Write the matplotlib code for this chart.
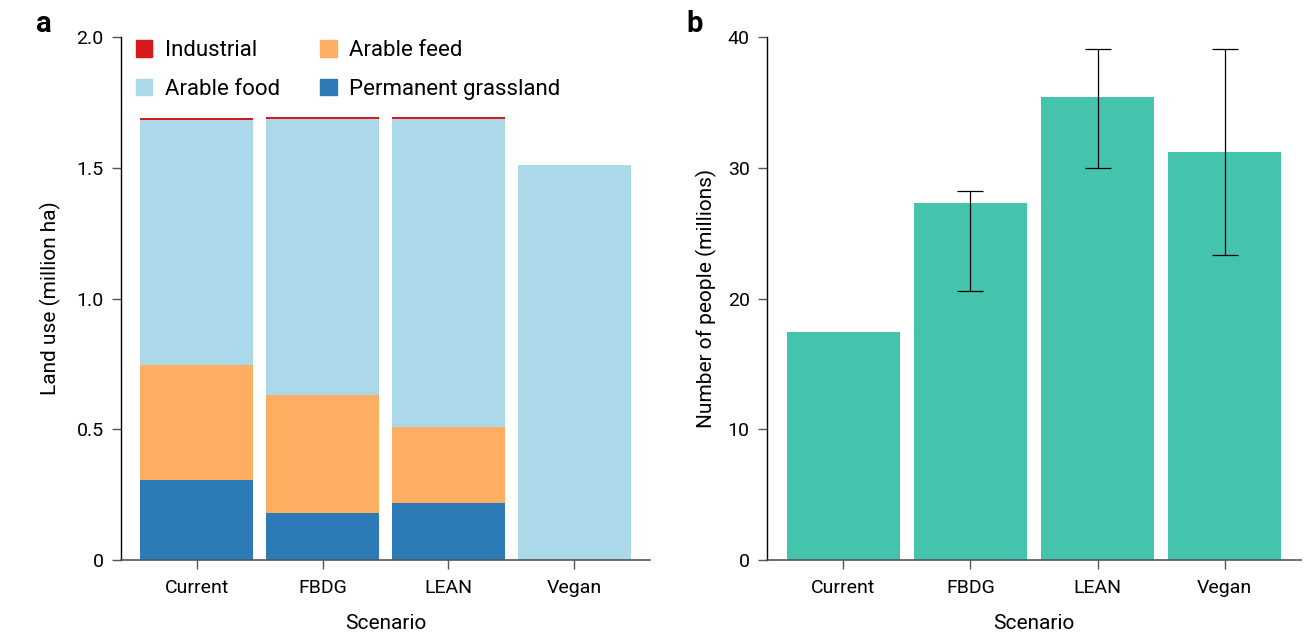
import numpy as np
import matplotlib
matplotlib.use("Agg")
import matplotlib.pyplot as plt
from matplotlib.patches import Patch


scenarios = ["Current", "FBDG", "LEAN", "Vegan"]

# panel a, land use (million ha)
grassland = [0.306, 0.180, 0.218, 0.0]
arable_feed = [0.440, 0.451, 0.291, 0.0]
arable_food = [0.938, 1.055, 1.177, 1.511]
industrial = [0.005, 0.008, 0.008, 0.0]

# panel b, number of people (millions)
people = [17.4, 27.3, 35.4, 31.2]
people_low = [np.nan, 20.6, 30.0, 23.3]
people_high = [np.nan, 28.2, 39.1, 39.1]

C_IND = "#d7191c"
C_FEED = "#fdae61"
C_FOOD = "#abd9e9"
C_GRASS = "#2c7bb6"
C_PEOPLE = "#44c4ad"

plt.rcParams["font.family"] = ["Roboto", "DejaVu Sans"]
TICK_FONT = ["Liberation Sans Narrow", "Roboto", "DejaVu Sans"]

fig = plt.figure(figsize=(13.12, 6.44), dpi=100)
W, H = 1312, 644
ax_a = fig.add_axes([121 / W, 84 / H, 529 / W, 523 / H])
ax_b = fig.add_axes([767 / W, 84 / H, 534 / W, 523 / H])


def style_axes(ax):
    ax.spines["top"].set_visible(False)
    ax.spines["right"].set_visible(False)
    ax.spines["left"].set_color("black")
    ax.spines["bottom"].set_color("#555555")
    ax.spines["left"].set_linewidth(1.0)
    ax.spines["bottom"].set_linewidth(1.2)
    ax.tick_params(axis="both", direction="out", length=6.5, width=1, color="#555555")
    ax.tick_params(axis="y", labelsize=14, pad=6)
    ax.tick_params(axis="x", labelsize=14, pad=7.5)
    for lab in ax.get_xticklabels() + ax.get_yticklabels():
        lab.set_family(TICK_FONT)
    ax.set_xlabel("Scenario", fontsize=15, labelpad=12)
    ax.set_xlim(-0.6, 3.6)


x = np.arange(len(scenarios))
w = 0.9

# panel a
b1 = np.array(grassland)
b2 = b1 + np.array(arable_feed)
b3 = b2 + np.array(arable_food)
ax_a.bar(x, grassland, w, color=C_GRASS)
ax_a.bar(x, arable_feed, w, bottom=b1, color=C_FEED)
ax_a.bar(x, arable_food, w, bottom=b2, color=C_FOOD)
ax_a.bar(x, industrial, w, bottom=b3, color=C_IND)
ax_a.set_ylim(0, 2.0)
ax_a.set_yticks([0, 0.5, 1.0, 1.5, 2.0])
ax_a.set_yticklabels(["0", "0.5", "1.0", "1.5", "2.0"])
ax_a.set_xticks(x)
ax_a.set_xticklabels(scenarios)
ax_a.set_ylabel("Land use (million ha)", fontsize=15, labelpad=11)
style_axes(ax_a)

handles = [
    Patch(color=C_IND, label="Industrial"),
    Patch(color=C_FOOD, label="Arable food"),
    Patch(color=C_FEED, label="Arable feed"),
    Patch(color=C_GRASS, label="Permanent grassland"),
]
ax_a.legend(handles=handles, ncol=2, loc="upper left", bbox_to_anchor=(-0.01, 1.032),
            frameon=False, fontsize=16, handlelength=0.75, handleheight=0.75,
            handletextpad=0.55, columnspacing=1.82, labelspacing=0.8)

# panel b
ax_b.bar(x, people, 0.89, color=C_PEOPLE)
yerr = np.array([np.array(people) - np.array(people_low),
                 np.array(people_high) - np.array(people)])
ax_b.errorbar(x[1:], people[1:], yerr=yerr[:, 1:], fmt="none", ecolor="black",
              elinewidth=0.9, capsize=9.4, capthick=0.9)
ax_b.set_ylim(0, 40)
ax_b.set_yticks([0, 10, 20, 30, 40])
ax_b.set_xticks(x)
ax_b.set_xticklabels(scenarios)
ax_b.set_ylabel("Number of people (millions)", fontsize=15, labelpad=8)
style_axes(ax_b)

fig.text(36 / W, 1 - 24 / H, "a", fontsize=21, fontweight="bold", va="center", ha="left")
fig.text(686 / W, 1 - 24 / H, "b", fontsize=21, fontweight="bold", va="center", ha="left")

fig.savefig("out.png", dpi=100)
